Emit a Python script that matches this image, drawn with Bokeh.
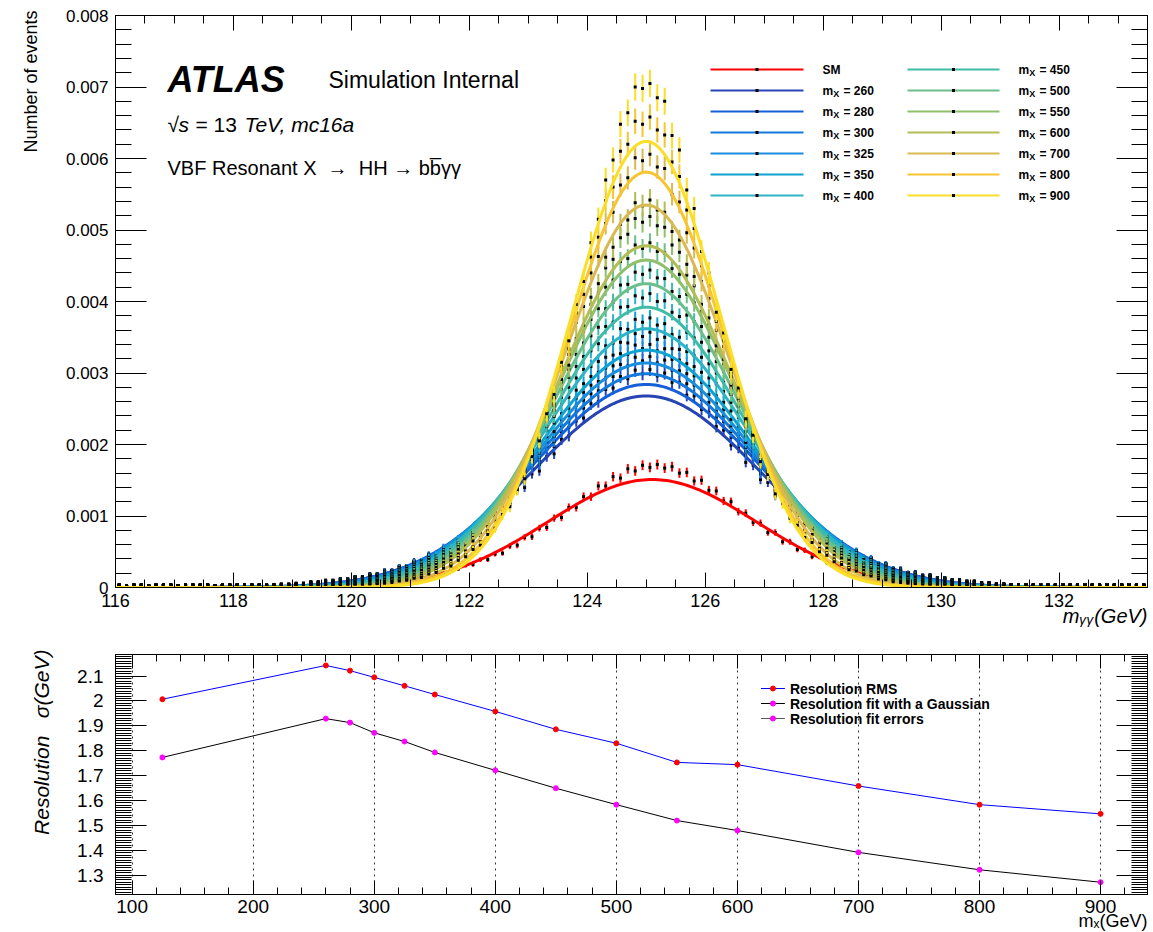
import math
from bokeh.plotting import figure
from bokeh.layouts import column
from bokeh.models import (ColumnDataSource, Range1d, LinearAxis, SingleIntervalTicker,
                          CustomJSTickFormatter, Label, Title)
from bokeh.embed import file_html
from bokeh.resources import INLINE

FONT = "Liberation Sans"
NBSP = "\u00a0"

# ------------------------------------------------------------------
# Top panel: m_yy histograms (bin contents in units of 1e-5 events)
# ------------------------------------------------------------------
BIN_LOW = 116.0
BIN_WIDTH = 0.125
N_BINS = 140
COUNT_UNIT = 1e-5

series_labels = ["SM", "260", "280", "300", "325", "350", "400",
                 "450", "500", "550", "600", "700", "800", "900"]
series_colors = ["#ff0000", "#2644b4", "#1560d8", "#1479dc", "#1a8ede", "#0ea2d2", "#2eb4c4",
                 "#3fbba6", "#6cbf8a", "#8fbf6a", "#b3bd56", "#d9ba52", "#f7c532", "#fadf26"]

sm_counts = [1,2,1,1,2,1,2,1,1,2,1,2,2,1,2,2,1,2,2,2,2,2,2,2,2,
             2,2,3,3,4,4,5,5,6,6,8,8,10,10,13,13,16,16,20,20,25,26,31,32,39,39,47,48,58,59,
             70,71,83,84,97,98,112,112,127,127,142,142,155,153,166,163,171,168,
             172,167,169,160,161,149,150,136,135,121,120,106,104,91,90,77,77,64,64,53,52,43,43,35,35,29,
             28,23,22,18,18,15,14,12,11,9,9,7,7,6,6,5,4,4,3,3,2,2,
             2,2,2,1,2,2,1,2,1,2,2,1,2,1,1,2,1,1,1]
mx260_counts = [3,2,3,3,2,3,3,3,2,3,3,3,3,2,3,3,3,3,3,3,
                4,4,5,5,6,6,8,8,10,10,12,12,15,15,19,19,24,24,29,30,36,37,45,46,54,56,66,68,80,83,
                97,100,115,119,136,140,159,163,183,187,207,212,233,237,257,260,277,279,295,292,304,299,
                305,296,300,287,287,269,268,249,245,225,220,199,195,175,171,151,147,128,125,109,
                106,91,87,74,72,60,59,50,49,41,40,33,32,27,26,21,21,17,17,14,13,11,11,9,9,7,7,5,5,4,4,3,
                3,4,3,3,4,3,3,4,3,3,4,3,3,4,3,3]
mx280_counts = [3,2,3,3,2,3,3,3,2,3,3,3,3,2,3,3,3,3,3,3,
                4,4,5,5,6,6,8,8,10,10,12,12,15,15,19,19,24,24,30,30,38,38,47,48,57,58,69,71,84,87,
                101,105,121,125,143,148,167,172,193,197,218,224,246,251,271,275,293,295,312,310,322,317,
                323,314,318,304,303,285,283,263,259,238,232,210,205,185,180,159,155,135,132,113,
                111,95,91,78,75,63,62,52,52,43,42,34,34,27,27,21,22,17,18,14,14,11,11,9,9,7,7,5,5,4,4,3,
                3,4,3,3,4,3,3,4,3,3,4,3,3,4,3,3]
mx300_counts = [3,2,3,3,2,3,3,3,2,3,3,3,3,2,3,3,3,3,3,3,2,
                3,4,4,5,6,7,7,9,9,12,12,15,15,18,19,23,23,29,29,36,37,45,47,56,58,68,71,83,87,102,
                106,123,127,146,152,171,177,198,204,226,233,255,262,283,288,307,310,327,326,339,334,
                340,331,334,319,318,299,296,275,270,247,241,218,212,190,185,163,159,138,134,115,
                112,96,92,79,75,64,62,52,51,42,41,33,33,26,26,21,21,17,17,13,13,10,10,8,8,6,6,5,5,4,4,
                4,3,4,3,3,4,3,3,4,3,3,4,3,3,4,3,3]
mx325_counts = [3,2,3,3,2,3,3,3,2,3,3,3,3,2,3,3,3,3,3,3,2,3,
                4,4,5,5,7,7,9,9,11,11,14,14,18,18,23,23,29,29,36,37,45,47,56,58,68,71,83,88,103,107,
                124,129,148,155,176,182,204,211,234,241,265,273,295,301,322,325,343,342,355,351,
                357,347,350,334,333,313,309,287,281,257,249,226,219,196,190,168,162,142,136,118,
                113,97,93,79,75,64,62,52,51,41,41,33,33,26,26,20,20,16,16,13,13,10,10,8,8,6,6,5,5,4,
                3,4,3,4,3,3,4,3,3,4,3,3,4,3,3,4,3,3]
mx350_counts = [3,2,3,3,2,3,3,3,2,3,3,3,3,2,3,3,3,3,3,3,2,3,3,
                4,4,5,6,6,8,8,11,11,13,14,17,17,22,22,28,29,35,37,43,46,55,57,67,71,83,88,103,109,125,
                131,151,159,179,188,211,218,243,251,276,285,309,316,338,342,362,361,375,371,
                377,367,369,354,350,330,324,301,293,268,259,235,226,203,195,173,165,144,137,119,
                113,97,92,79,75,63,61,51,49,41,39,33,31,26,24,20,19,15,15,12,12,9,9,7,7,5,5,4,4,
                3,3,4,3,4,3,3,4,3,3,4,3,3,4,3,3,4,3,3]
mx400_counts = [3,2,3,3,2,3,3,3,2,3,3,3,3,2,3,3,3,3,3,3,2,3,3,3,
                4,4,5,5,7,7,9,9,12,12,16,16,20,20,25,27,33,34,42,44,53,56,66,70,82,87,101,108,126,133,
                153,162,185,195,220,230,256,266,293,305,331,341,365,371,392,393,408,405,
                411,400,401,385,379,357,349,322,313,285,274,247,238,212,201,178,168,147,139,120,
                112,97,91,78,73,62,58,50,46,39,36,30,29,23,22,18,18,14,14,11,11,8,8,6,6,5,5,4,
                4,3,3,4,3,4,3,3,4,3,3,4,3,3,4,3,3,4,3,3]
mx450_counts = [3,2,3,3,2,3,3,3,2,3,3,3,3,2,3,3,3,3,3,3,2,3,3,3,3,
                3,4,4,6,6,8,8,10,11,14,14,18,18,23,24,30,32,39,41,50,53,63,67,79,85,99,107,123,134,153,
                165,188,200,225,239,266,280,309,323,352,364,390,399,423,424,441,438,
                444,433,432,414,407,381,372,343,331,300,287,259,246,218,206,182,170,149,138,119,
                111,95,88,75,71,59,56,46,44,35,34,27,26,21,20,16,16,12,12,9,9,7,7,5,5,4,4,
                3,4,3,3,4,3,4,3,3,4,3,3,4,3,3,4,3,3,4,3,3]
mx500_counts = [3,2,3,3,2,3,3,3,2,3,3,3,3,2,3,3,3,3,3,3,2,3,3,3,3,3,3,
                4,4,5,6,7,9,9,12,12,16,16,21,22,27,29,35,38,46,49,60,64,77,82,97,104,122,133,154,166,191,
                205,233,248,278,294,326,342,375,390,420,430,456,460,479,474,
                482,470,468,446,438,410,398,365,350,316,302,270,254,225,211,185,172,148,137,118,
                108,93,86,73,68,56,53,43,41,33,31,25,24,19,18,14,14,10,10,8,7,6,5,4,4,
                4,4,3,4,3,3,4,3,4,3,3,4,3,3,4,3,3,4,3,3,4,3,3]
mx550_counts = [3,2,3,3,2,3,3,3,2,3,3,3,3,2,3,3,3,3,3,3,2,3,3,3,3,3,3,3,
                3,4,5,6,7,8,10,11,13,14,18,19,24,26,32,35,42,47,57,60,74,79,94,102,119,131,153,166,193,208,
                238,254,287,305,340,358,396,412,447,459,489,494,516,511,
                519,506,504,479,469,437,422,386,368,331,313,279,262,230,214,186,172,147,135,115,
                106,90,83,70,64,54,49,40,37,30,28,22,21,17,16,12,11,9,8,7,6,5,4,4,
                3,4,4,3,4,3,3,4,3,4,3,3,4,3,3,4,3,3,4,3,3,4,3,3]
mx600_counts = [3,2,3,3,2,3,3,3,2,3,3,3,3,2,3,3,3,3,3,3,2,3,3,3,3,3,3,3,3,
                4,4,5,6,7,9,10,12,13,17,18,23,24,30,32,40,43,53,58,70,76,91,99,117,128,151,164,192,207,239,
                257,291,311,348,367,406,425,462,476,508,514,538,534,
                542,528,525,498,486,452,435,396,377,338,319,283,265,232,213,186,170,145,132,113,
                103,87,80,66,61,50,45,38,34,28,26,21,19,15,14,11,10,8,7,6,5,4,4,
                4,3,4,4,3,4,3,3,4,3,4,3,3,4,3,3,4,3,3,4,3,3,4,3,3]
mx700_counts = [3,2,3,3,2,3,3,3,2,3,3,3,3,2,3,3,3,3,3,3,2,3,3,3,3,3,3,3,3,3,4,
                4,4,5,6,7,9,10,13,14,19,20,26,28,35,38,47,51,65,70,85,93,112,123,147,161,192,209,245,265,305,
                326,371,393,440,463,509,525,563,573,601,597,
                606,588,586,550,539,496,475,428,404,360,337,295,275,236,217,185,167,141,129,107,
                98,81,74,61,55,45,41,33,30,24,22,17,16,12,11,9,8,6,5,4,4,
                3,3,4,3,4,4,3,4,3,3,4,3,4,3,3,4,3,3,4,3,3,4,3,3,4,3,3]
mx800_counts = [3,2,3,3,2,3,3,3,2,3,3,3,3,2,3,3,3,3,3,3,2,3,3,3,3,3,3,3,3,3,4,3,3,
                4,5,6,7,9,10,12,15,17,22,24,30,33,42,46,57,64,79,86,106,116,141,155,186,206,244,266,310,334,384,
                410,462,490,541,560,610,620,652,648,
                658,640,633,595,575,528,502,450,422,372,345,300,276,234,214,179,162,135,121,101,
                91,75,67,55,49,40,35,28,26,20,18,14,13,10,9,7,6,5,4,
                3,4,3,3,4,3,4,4,3,4,3,3,4,3,4,3,3,4,3,3,4,3,3,4,3,3,4,3,3]
mx900_counts = [3,2,3,3,2,3,3,3,2,3,3,3,3,2,3,3,3,3,3,3,2,3,3,3,3,3,3,3,3,3,4,3,3,3,
                4,5,6,7,9,10,13,14,19,21,27,30,38,43,53,59,74,83,102,113,137,152,183,205,243,270,315,345,
                396,428,482,515,570,598,648,664,700,698,
                705,685,680,632,612,556,530,470,440,385,356,305,279,236,213,176,158,131,118,97,
                87,70,63,50,45,36,32,25,23,18,16,12,11,8,7,6,5,4,
                4,3,4,3,3,4,3,4,4,3,4,3,3,4,3,4,3,3,4,3,3,4,3,3,4,3,3,4,3,3]

# per-event weight (1e-5 units) giving the statistical error bars
stat_weight = [0.28, 0.28, 0.29, 0.30, 0.31, 0.32, 0.34, 0.36, 0.38, 0.41, 0.43, 0.46, 0.49, 0.52]

# Gaussian fit results (mean, peak height); sigma = resolution_fit below
fit_mean = [125.1, 125.0, 125.0, 125.0, 125.0, 125.0, 125.0,
            125.0, 125.0, 125.0, 125.0, 125.0, 125.0, 125.0]
fit_peak = [0.00151, 0.00268, 0.00284, 0.00299, 0.00314, 0.00332, 0.00362,
            0.00392, 0.00425, 0.00458, 0.00478, 0.00535, 0.00581, 0.00624]

# ------------------------------------------------------------------
# Bottom panel: resolution vs m_X
# ------------------------------------------------------------------
mx_points = [125, 260, 280, 300, 325, 350, 400, 450, 500, 550, 600, 700, 800, 900]
resolution_rms = [2.007, 2.143, 2.122, 2.095, 2.061, 2.026, 1.958, 1.886, 1.830, 1.753,
                  1.744, 1.658, 1.583, 1.546]
resolution_fit = [1.773, 1.929, 1.913, 1.872, 1.837, 1.793, 1.721, 1.649, 1.583, 1.519,
                  1.479, 1.391, 1.321, 1.271]

all_counts = [sm_counts, mx260_counts, mx280_counts, mx300_counts, mx325_counts, mx350_counts,
              mx400_counts, mx450_counts, mx500_counts, mx550_counts, mx600_counts, mx700_counts,
              mx800_counts, mx900_counts]
for lab, arr in zip(series_labels, all_counts):
    assert len(arr) == N_BINS, (lab, len(arr))

# ------------------------------------------------------------------
# Layout geometry
# ------------------------------------------------------------------
W = 1153
TOP_H = 640
BOT_H = 292
T_L, T_R, T_T, T_B = 115, 1147, 15, 587
X_LO, X_HI = 116.0, 133.5
Y_LO, Y_HI = 0.0, 0.008
B_L, B_R, B_T, B_B = 114, 1150, 14, 254
BX_LO, BX_HI = 86.25, 938.75
BY_LO, BY_HI = 1.2216, 2.187


def tx(px):
    return X_LO + (px - T_L) * (X_HI - X_LO) / (T_R - T_L)


def ty(py):
    return Y_HI - (py - T_T) * (Y_HI - Y_LO) / (T_B - T_T)


def bx(px):
    return BX_LO + (px - B_L) * (BX_HI - BX_LO) / (B_R - B_L)


def by(py_global):
    py = py_global - TOP_H
    return BY_HI - (py - B_T) * (BY_HI - BY_LO) / (B_B - B_T)


def style_axis(ax, ticker, tick_in, minor_in, label_size=None, standoff=0, formatter=None):
    ax.ticker = ticker
    ax.major_tick_in = tick_in
    ax.major_tick_out = 0
    ax.minor_tick_in = minor_in
    ax.minor_tick_out = 0
    ax.axis_line_color = "black"
    ax.major_tick_line_color = "black"
    ax.minor_tick_line_color = "black"
    ax.major_label_text_font = FONT
    if label_size is None:
        # tick marks only (ROOT draws ticks on all four frame sides)
        ax.major_label_text_font_size = "1px"
        ax.major_label_text_color = None
        ax.major_label_standoff = 0
    else:
        ax.major_label_text_font_size = label_size
        ax.major_label_text_color = "black"
        ax.major_label_standoff = standoff
    if formatter is not None:
        ax.formatter = formatter


def axis_title(p, side, text, size, style, standoff, offset=0.0):
    p.add_layout(Title(text=text, align="right", vertical_align="top",
                       standoff=standoff, offset=offset,
                       text_font=FONT, text_font_size=size, text_font_style=style,
                       text_color="black"), side)


def add_label(p, x, y, text, size, style="normal", align="left", baseline="alphabetic",
              angle=0.0, color="black"):
    p.add_layout(Label(x=x, y=y, x_units="data", y_units="data", text=text,
                       text_font=FONT, text_font_size=size, text_font_style=style,
                       text_align=align, text_baseline=baseline, angle=angle,
                       text_color=color))


# ------------------------------------------------------------------
# Top figure
# ------------------------------------------------------------------
p1 = figure(width=W, height=TOP_H, x_range=Range1d(X_LO, X_HI), y_range=Range1d(Y_LO, Y_HI),
            output_backend="svg", toolbar_location=None,
            min_border_left=T_L, min_border_right=W - T_R,
            min_border_top=T_T, min_border_bottom=TOP_H - T_B)
p1.outline_line_color = "black"
p1.outline_line_width = 1
p1.xgrid.visible = False
p1.ygrid.visible = False

style_axis(p1.xaxis[0], SingleIntervalTicker(interval=2, num_minor_ticks=4), 15, 8,
           "18px", 6)
style_axis(p1.yaxis[0], SingleIntervalTicker(interval=0.001, num_minor_ticks=5), 31, 16,
           "17px", 7,
           CustomJSTickFormatter(code="return tick < 1e-9 ? '0' : tick.toFixed(3);"))
axis_title(p1, "below", "m\u1d67\u1d67(GeV)", "20px", "italic", -10)
axis_title(p1, "left", "Number of events", "18px", "normal", 40, -5)
ax_top = LinearAxis()
style_axis(ax_top, SingleIntervalTicker(interval=2, num_minor_ticks=4), 15, 8)
p1.add_layout(ax_top, "above")
ax_right = LinearAxis()
style_axis(ax_right, SingleIntervalTicker(interval=0.001, num_minor_ticks=5), 31, 16)
p1.add_layout(ax_right, "right")

bin_centers = [BIN_LOW + (k + 0.5) * BIN_WIDTH for k in range(N_BINS)]
curve_x = [X_LO + i * 0.05 for i in range(int((X_HI - X_LO) / 0.05) + 1)]

for i, counts in enumerate(all_counts):
    color = series_colors[i]
    yv = [c * COUNT_UNIT for c in counts]
    ev = [math.sqrt(c * stat_weight[i]) * COUNT_UNIT for c in counts]
    src = ColumnDataSource(dict(x=bin_centers, y=yv,
                                lo=[max(a - b, 0.0) for a, b in zip(yv, ev)],
                                hi=[a + b for a, b in zip(yv, ev)]))
    p1.segment(x0="x", y0="lo", x1="x", y1="hi", source=src, line_color=color, line_width=2)
    p1.scatter(x="x", y="y", source=src, marker="square", size=3,
               fill_color="black", line_color=None)
    cy = [fit_peak[i] * math.exp(-0.5 * ((x - fit_mean[i]) / resolution_fit[i]) ** 2)
          for x in curve_x]
    p1.line(curve_x, cy, line_color=color, line_width=3)

# legend (two columns of seven)
for i, name in enumerate(series_labels):
    col, row = divmod(i, 7)
    ypx = 69 + 21 * row
    x0, x1, xt = (710, 803, 822) if col == 0 else (907, 999, 1018)
    color = series_colors[i]
    p1.line([tx(x0), tx(x1)], [ty(ypx), ty(ypx)], line_color=color, line_width=2)
    p1.scatter([tx((x0 + x1) / 2)], [ty(ypx)], marker="square", size=3,
               fill_color="black", line_color=None)
    if name == "SM":
        add_label(p1, tx(xt), ty(ypx), "SM", "12px", "bold", baseline="middle")
    else:
        add_label(p1, tx(xt), ty(ypx), "m", "12px", "bold", baseline="middle")
        add_label(p1, tx(xt + 10.7), ty(ypx + 3.5), "X", "9px", "bold", baseline="middle")
        add_label(p1, tx(xt + 21), ty(ypx), "= " + name, "12px", "bold", baseline="middle")

# ATLAS texts
add_label(p1, tx(167), ty(79), "ATLAS", "36px", "bold italic")
add_label(p1, tx(328), ty(79), "Simulation Internal", "23px")
add_label(p1, tx(167), ty(124), "\u221a", "21px")
add_label(p1, tx(178), ty(124), "s", "21px", "italic")
add_label(p1, tx(195), ty(124), "= 13", "21px")
add_label(p1, tx(244), ty(124), "TeV, mc16a", "21px", "italic")
add_label(p1, tx(167), ty(167),
          "VBF Resonant X" + NBSP * 2 + "\u2192" + NBSP * 2 + "HH \u2192 bb\u0305\u03b3\u03b3",
          "20px")

# ------------------------------------------------------------------
# Bottom figure
# ------------------------------------------------------------------
p2 = figure(width=W, height=BOT_H, x_range=Range1d(BX_LO, BX_HI), y_range=Range1d(BY_LO, BY_HI),
            output_backend="svg", toolbar_location=None,
            min_border_left=B_L, min_border_right=W - B_R,
            min_border_top=B_T, min_border_bottom=BOT_H - B_B)
p2.outline_line_color = "black"
p2.outline_line_width = 1
p2.ygrid.visible = False

style_axis(p2.xaxis[0], SingleIntervalTicker(interval=100, num_minor_ticks=5), 14, 7,
           "19px", 5)
style_axis(p2.yaxis[0], SingleIntervalTicker(interval=0.1, num_minor_ticks=10), 31, 16,
           "19px", 12,
           CustomJSTickFormatter(code="return String(Math.round(tick * 10) / 10);"))
axis_title(p2, "below", "m\u2093(GeV)", "18px", "normal", -10)
axis_title(p2, "left", "Resolution" + NBSP * 3 + "\u03c3(GeV)", "21px", "italic", 40, -5)
p2.xgrid.grid_line_color = "black"
p2.xgrid.grid_line_dash = "dotted"
p2.xgrid.grid_line_width = 1
p2.xgrid.grid_line_alpha = 0.8
ax_top2 = LinearAxis()
style_axis(ax_top2, SingleIntervalTicker(interval=100, num_minor_ticks=5), 14, 7)
p2.add_layout(ax_top2, "above")
ax_right2 = LinearAxis()
style_axis(ax_right2, SingleIntervalTicker(interval=0.1, num_minor_ticks=10), 31, 16)
p2.add_layout(ax_right2, "right")

p2.line(mx_points, resolution_rms, line_color="#0000ff", line_width=1)
p2.scatter(mx_points, resolution_rms, marker="circle", size=5,
           fill_color="#ff0000", line_color="#ff0000")
p2.line(mx_points, resolution_fit, line_color="black", line_width=1)
p2.scatter(mx_points, resolution_fit, marker="circle", size=5,
           fill_color="#ff00ff", line_color="#ff00ff")

leg_entries = [("Resolution RMS", "#0000ff", "#ff0000"),
               ("Resolution fit with a Gaussian", "black", "#ff00ff"),
               ("Resolution fit errors", "#5a5a5a", "#ff00ff")]
for r, (text, lc, mc) in enumerate(leg_entries):
    ypx = 688 + 15 * r
    p2.line([bx(762), bx(786)], [by(ypx), by(ypx)], line_color=lc, line_width=1)
    p2.scatter([bx(774)], [by(ypx)], marker="circle", size=5, fill_color=mc, line_color=mc)
    add_label(p2, bx(791), by(ypx), text, "14px", "bold", baseline="middle")

layout = column(p1, p2)
open("out.html", "w").write(file_html(layout, INLINE))
